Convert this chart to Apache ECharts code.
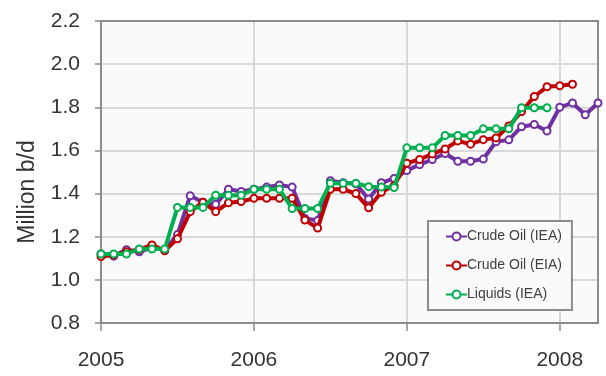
<!DOCTYPE html>
<html>
<head>
<meta charset="utf-8">
<script src="https://cdn.jsdelivr.net/npm/echarts@6/dist/echarts.min.js"></script>
<style>
html,body{margin:0;padding:0;background:#fff;}
#c{width:606px;height:376px;}
</style>
</head>
<body>
<div id="c"></div>
<script>
const months = [
  '2005-01','2005-02','2005-03','2005-04','2005-05','2005-06','2005-07','2005-08','2005-09','2005-10','2005-11','2005-12',
  '2006-01','2006-02','2006-03','2006-04','2006-05','2006-06','2006-07','2006-08','2006-09','2006-10','2006-11','2006-12',
  '2007-01','2007-02','2007-03','2007-04','2007-05','2007-06','2007-07','2007-08','2007-09','2007-10','2007-11','2007-12',
  '2008-01','2008-02','2008-03','2008-04'
];
const yearLabels = ['2005', '2006', '2007', '2008'];
const seriesNames = ['Crude Oil (IEA)', 'Crude Oil (EIA)', 'Liquids (IEA)'];
const crudeIEA = [
  1.12, 1.11, 1.14, 1.13, 1.15, 1.14, 1.21, 1.39, 1.36, 1.35, 1.42, 1.41,
  1.42, 1.43, 1.44, 1.43, 1.285, 1.275, 1.46, 1.45, 1.445, 1.375, 1.45, 1.47,
  1.507, 1.534, 1.558, 1.586, 1.55, 1.55, 1.56, 1.64, 1.649, 1.71, 1.72, 1.69,
  1.80, 1.82, 1.765, 1.82
];
const crudeEIA = [
  1.108, 1.115, 1.13, 1.14, 1.162, 1.135, 1.19, 1.316, 1.36, 1.316, 1.357, 1.363,
  1.378, 1.378, 1.378, 1.378, 1.277, 1.24, 1.42, 1.42, 1.40, 1.334, 1.406, 1.437,
  1.541, 1.558, 1.584, 1.607, 1.644, 1.629, 1.65, 1.658, 1.713, 1.78, 1.85, 1.895,
  1.90, 1.907
];
const liquidsIEA = [
  1.12, 1.12, 1.12, 1.143, 1.143, 1.143, 1.336, 1.336, 1.336, 1.392, 1.392, 1.392,
  1.42, 1.42, 1.42, 1.331, 1.331, 1.331, 1.448, 1.448, 1.448, 1.432, 1.43, 1.428,
  1.612, 1.612, 1.612, 1.669, 1.669, 1.669, 1.70, 1.70, 1.70, 1.798, 1.798, 1.798
];
const colors = ['#7030A0', '#C00000', '#00B050'];

const FONT = '"Liberation Sans", Arial, sans-serif';

function monthIndex(s) {
  const p = s.split('-');
  return (parseInt(p[0], 10) - 2005) * 12 + (parseInt(p[1], 10) - 1);
}
function toPoints(vals) {
  return vals.map((v, i) => [monthIndex(months[i]), v]);
}
const yearTickValues = yearLabels.map(y => monthIndex(y + '-01'));
const lastMonth = monthIndex(months[months.length - 1]);

function makeSeries(name, vals, color, z) {
  return {
    name: name,
    type: 'line',
    data: toPoints(vals),
    symbol: 'circle',
    symbolSize: 7,
    clip: false,
    z: z,
    lineStyle: { color: color, width: 4 },
    itemStyle: { color: '#ffffff', borderColor: color, borderWidth: 2 },
    emphasis: { disabled: true }
  };
}

const chart = echarts.init(document.getElementById('c'), null, { renderer: 'canvas' });
const gridLine = { show: true, lineStyle: { color: '#d9d9d9', width: 2 } };
const axisCol = '#8c8c8c';
chart.setOption({
  animation: false,
  backgroundColor: '#ffffff',
  grid: { left: 101, right: 8, top: 21, bottom: 53, show: true, backgroundColor: '#fafafa', borderWidth: 0 },
  legend: {
    orient: 'vertical',
    left: 428,
    top: 221,
    padding: [7, 10, 7, 17],
    itemGap: 12,
    itemWidth: 21,
    itemHeight: 10,
    borderColor: axisCol,
    borderWidth: 2,
    backgroundColor: '#fafafa',
    data: seriesNames,
    textStyle: { fontFamily: FONT, fontSize: 14, color: '#404040', lineHeight: 17, padding: [0, 0, 0, -5] }
  },
  graphic: [{
    type: 'text',
    x: 28,
    y: 192,
    rotation: Math.PI / 2,
    style: {
      text: 'Million b/d',
      font: '23px ' + FONT,
      fill: '#333333',
      align: 'center',
      verticalAlign: 'middle'
    }
  }],
  xAxis: [{
    type: 'value',
    min: 0,
    max: lastMonth,
    interval: 12,
    axisLine: { show: true, onZero: false, lineStyle: { color: axisCol, width: 2 } },
    axisTick: { show: true, length: 8, customValues: yearTickValues, lineStyle: { color: axisCol, width: 1.5 } },
    axisLabel: {
      customValues: yearTickValues,
      formatter: v => (v % 12 === 0 ? yearLabels[v / 12] : ''),
      fontFamily: FONT, fontSize: 21, color: '#333333', margin: 27
    },
    splitLine: gridLine
  }, {
    type: 'value', position: 'top', min: 0, max: lastMonth,
    axisLine: { show: true, onZero: false, lineStyle: { color: axisCol, width: 2 } },
    axisTick: { show: false }, axisLabel: { show: false }, splitLine: { show: false }
  }],
  yAxis: [{
    type: 'value',
    min: 0.8,
    max: 2.2,
    interval: 0.2,
    axisLine: { show: true, onZero: false, lineStyle: { color: axisCol, width: 2 } },
    axisTick: { show: true, length: 6, lineStyle: { color: axisCol, width: 1.5 } },
    axisLabel: {
      formatter: v => v.toFixed(1),
      fontFamily: FONT, fontSize: 21, color: '#333333', margin: 21
    },
    splitLine: gridLine
  }, {
    type: 'value', position: 'right', min: 0.8, max: 2.2,
    axisLine: { show: true, onZero: false, lineStyle: { color: axisCol, width: 2 } },
    axisTick: { show: false }, axisLabel: { show: false }, splitLine: { show: false }
  }],
  series: [
    makeSeries(seriesNames[0], crudeIEA, colors[0], 3),
    makeSeries(seriesNames[1], crudeEIA, colors[1], 4),
    makeSeries(seriesNames[2], liquidsIEA, colors[2], 5)
  ]
});
</script>
</body>
</html>
